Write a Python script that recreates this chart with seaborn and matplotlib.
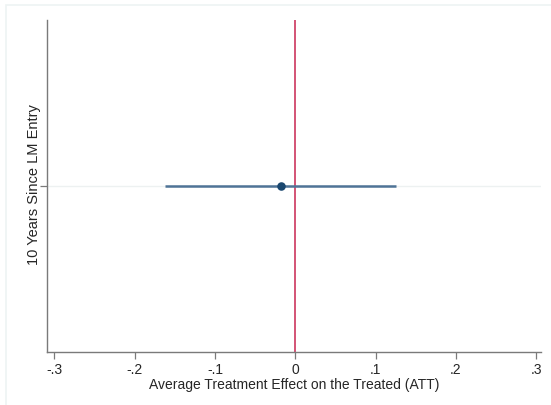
import matplotlib
matplotlib.use("Agg")
import matplotlib.pyplot as plt
import seaborn as sns
import pandas as pd
from matplotlib.patches import Rectangle

sns.set_theme(style="white")
plt.rcParams["font.family"] = ["Liberation Sans", "DejaVu Sans"]

# Estimate and 95% CI
labels = ["10 Years Since LM Entry"]
att = [-0.018]
ci_low = [-0.162]
ci_high = [0.126]
xticks = [-0.3, -0.2, -0.1, 0, 0.1, 0.2, 0.3]
xticklabels = ["-.3", "-.2", "-.1", "0", ".1", ".2", ".3"]

df = pd.DataFrame({"label": labels, "att": att, "lo": ci_low, "hi": ci_high})
df["ypos"] = range(len(df))

fig = plt.figure(figsize=(5.51, 4.05), dpi=100)
ax = fig.add_axes([0.0853, 0.131, 0.8967, 0.82])

# faint outer frame like Stata's graph region
fig.patches.append(Rectangle((6 / 551, -0.1), 2, 1.1 - 5 / 405, transform=fig.transFigure,
                             fill=False, edgecolor="#eef3f3", linewidth=1.2))

# gridline at the coefficient row
ax.axhline(0, color="#edf1f1", linewidth=1.0, zorder=0)
# reference line at zero
ax.axvline(0, color="#c8244f", linewidth=1.1, zorder=1)

# confidence interval and point estimate
ax.hlines(df["ypos"], df["lo"], df["hi"], color="#4f7396", linewidth=1.8, zorder=2)
sns.scatterplot(data=df, x="att", y="ypos", ax=ax, color="#1a476f", s=38,
                edgecolor="#1a476f", linewidth=0, zorder=3, legend=False)

ax.set_xlim(-0.309, 0.306)
ax.set_ylim(-1, 1)
ax.set_xticks(xticks)
ax.set_xticklabels(xticklabels, fontsize=10)
ax.set_yticks([0])
ax.set_yticklabels([""])
ax.set_xlabel("Average Treatment Effect on the Treated (ATT)", fontsize=10, labelpad=1)
ax.set_ylabel(labels[0], fontsize=10.5)
ax.yaxis.set_label_coords(-0.013, 0.505)

for side in ["top", "right"]:
    ax.spines[side].set_visible(False)
for side in ["left", "bottom"]:
    ax.spines[side].set_color("#7a7a7a")
    ax.spines[side].set_linewidth(1.0)
ax.tick_params(axis="both", which="major", direction="out", length=5, width=0.9,
               color="#7a7a7a", pad=3, bottom=True, left=True)

fig.savefig("out.png", dpi=100)
